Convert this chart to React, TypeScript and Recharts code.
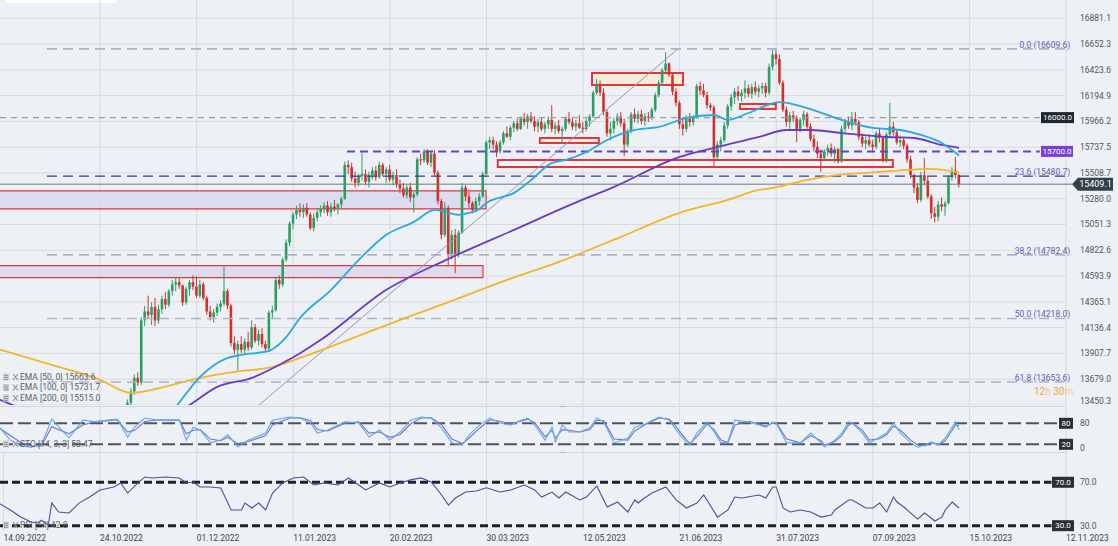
import React from "react";
import {
  ComposedChart,
  Bar,
  Line,
  XAxis,
  YAxis,
  CartesianGrid,
  ReferenceLine,
  ReferenceArea,
  ReferenceDot,
} from "recharts";

const W = 1118;
const MAIN_H = 405;
const BG = "#edf0f4";
const GRID = "#d6dae0";
const AX_TXT = "#51565c";
const FONT = "Roboto, 'Noto Sans', sans-serif";
const UP = "#2e9d62";
const DOWN = "#d3302c";
const ZONE_RED = "#e0383a";
const FIB_LINE = "#aeb2ca";
const FIB_TXT = "#5a63b4";

// x axis: trading-day index, one label every 28 bars
const dateTicks = [0, 28, 56, 84, 112, 140, 168, 196, 224, 252, 280, 308];
const dateLabels = [
  "14.09.2022", "24.10.2022", "01.12.2022", "11.01.2023", "20.02.2023", "30.03.2023",
  "12.05.2023", "21.06.2023", "31.07.2023", "07.09.2023", "15.10.2023", "12.11.2023",
];
const priceTicks = [
  16881.1, 16652.3, 16423.6, 16194.9, 15966.2, 15737.5, 15508.7, 15280.0,
  15051.3, 14822.6, 14593.9, 14365.1, 14136.4, 13907.7, 13679.0, 13450.3,
];

// daily candles, first one is bar 36
const firstBar = 36;
const opens = [
  13380, 13470, 13570, 13690, 13650, 14200, 14280, 14250, 14320, 14200,
  14300, 14390, 14340, 14460, 14520, 14540, 14510, 14360, 14480, 14540,
  14500, 14420, 14520, 14400, 14280, 14230, 14270, 14320, 14350, 14460,
  14330, 14000, 13940, 13990, 13940, 14010, 13960, 14140, 14020, 14080,
  13990, 13950, 14270, 14290, 14560, 14520, 14740, 14890, 15060, 15140,
  15180, 15160, 15200, 15140, 15020, 15110, 15160, 15190, 15220, 15160,
  15210, 15190, 15230, 15280, 15580, 15560, 15460, 15420, 15480, 15500,
  15430, 15490, 15530, 15470, 15580, 15500, 15540, 15450, 15490, 15410,
  15370, 15310, 15380, 15290, 15320, 15630, 15620, 15700, 15600, 15680,
  15510, 15260, 14960, 15200, 14790, 14960, 14780, 14980, 15380, 15300,
  15240, 15180, 15260, 15300, 15500, 15780, 15800, 15760, 15700, 15780,
  15860, 15830, 15910, 15950, 15900, 15990, 15960, 16010, 15970, 15920,
  15960, 15900, 15940, 15980, 15900, 15930, 15880, 15900, 15990, 15960,
  15920, 15950, 15910, 15900, 15970, 16010, 16220, 16300, 16220, 16050,
  15860, 15900, 15970, 16010, 15950, 15760, 15880, 16030, 15990, 16030,
  15970, 16010, 16000, 16070, 16200, 16310, 16420, 16480, 16380, 16230,
  16130, 15940, 15900, 15990, 15960, 16000, 16280, 16240, 16200, 16110,
  16090, 15650, 15760, 15800, 15930, 16100, 16180, 16230, 16190, 16220,
  16260, 16210, 16270, 16230, 16260, 16280, 16220, 16450, 16560, 16520,
  16310, 16070, 15960, 16020, 15990, 15900, 15980, 16030, 15920, 15810,
  15740, 15680, 15640, 15700, 15730, 15680, 15720, 15610, 15900, 15960,
  15930, 15990, 15960, 15830, 15770, 15800, 15760, 15740, 15860, 15820,
  15620, 15850, 15920, 15870, 15780, 15800, 15750, 15630, 15490, 15380,
  15270, 15490, 15440, 15300, 15150, 15120, 15230, 15210, 15240, 15470,
  15530, 15490,
];
const highs = [
  13500, 13600, 13720, 13740, 14230, 14330, 14420, 14360, 14400, 14340,
  14420, 14450, 14480, 14560, 14580, 14580, 14520, 14500, 14560, 14600,
  14590, 14560, 14540, 14420, 14330, 14300, 14350, 14380, 14680, 14480,
  14350, 14060, 14020, 14060, 14040, 14100, 14200, 14170, 14120, 14130,
  14020, 14290, 14330, 14580, 14600, 14760, 14920, 15080, 15160, 15220,
  15240, 15230, 15240, 15160, 15150, 15190, 15220, 15250, 15260, 15240,
  15270, 15240, 15300, 15610, 15620, 15600, 15520, 15500, 15690, 15540,
  15520, 15560, 15570, 15610, 15600, 15560, 15580, 15520, 15540, 15450,
  15420, 15400, 15420, 15340, 15650, 15680, 15720, 15720, 15700, 15710,
  15530, 15280, 15250, 15220, 15000, 15010, 15000, 15420, 15400, 15340,
  15260, 15290, 15330, 15520, 15800, 15830, 15830, 15790, 15800, 15880,
  15920, 15930, 15970, 15990, 16010, 16040, 16030, 16050, 16010, 15990,
  16000, 15960, 16010, 16110, 15960, 15980, 15920, 16010, 16050, 16000,
  15980, 16020, 15960, 15990, 16030, 16240, 16340, 16330, 16260, 16070,
  15960, 16000, 16040, 16050, 15990, 15900, 16050, 16080, 16060, 16070,
  16040, 16050, 16090, 16220, 16330, 16440, 16580, 16490, 16400, 16260,
  16150, 16000, 16020, 16040, 16020, 16300, 16320, 16300, 16230, 16130,
  16110, 15790, 15830, 15960, 16120, 16210, 16260, 16280, 16250, 16330,
  16290, 16300, 16320, 16290, 16310, 16310, 16480, 16600, 16610, 16560,
  16330, 16100, 16050, 16060, 16020, 16000, 16060, 16050, 15950, 15850,
  15790, 15720, 15720, 15760, 15770, 15740, 15730, 15930, 15990, 16010,
  16050, 16050, 15980, 15860, 15830, 15850, 15800, 15880, 15900, 15840,
  15870, 16130, 15960, 15890, 15840, 15830, 15770, 15660, 15500, 15420,
  15520, 15640, 15470, 15320, 15210, 15260, 15290, 15260, 15490, 15560,
  15650, 15500,
];
const lows = [
  13340, 13440, 13540, 13620, 13630, 14150, 14220, 14160, 14150, 14170,
  14260, 14300, 14320, 14420, 14460, 14480, 14330, 14340, 14420, 14470,
  14400, 14400, 14380, 14250, 14200, 14180, 14240, 14280, 14330, 14300,
  13970, 13900, 13760, 13910, 13900, 13930, 13940, 14000, 13980, 13960,
  13920, 13930, 14210, 14280, 14480, 14500, 14720, 14860, 15010, 15100,
  15120, 15110, 15120, 15000, 14990, 15080, 15120, 15150, 15130, 15120,
  15170, 15140, 15190, 15270, 15500, 15430, 15380, 15390, 15440, 15400,
  15380, 15450, 15440, 15460, 15480, 15420, 15430, 15400, 15380, 15330,
  15290, 15280, 15250, 15160, 15300, 15580, 15600, 15580, 15560, 15490,
  15230, 14920, 14940, 14690, 14740, 14620, 14760, 14970, 15260, 15200,
  15150, 15160, 15220, 15290, 15490, 15720, 15720, 15650, 15680, 15760,
  15820, 15800, 15870, 15880, 15890, 15930, 15900, 15950, 15880, 15870,
  15880, 15860, 15900, 15870, 15850, 15860, 15770, 15880, 15940, 15890,
  15880, 15900, 15860, 15880, 15920, 16000, 16200, 16190, 16020, 15830,
  15800, 15860, 15930, 15920, 15660, 15740, 15860, 15960, 15950, 15940,
  15930, 15960, 15980, 16050, 16180, 16290, 16400, 16360, 16200, 16100,
  15900, 15840, 15870, 15920, 15930, 15990, 16200, 16180, 16080, 16060,
  15570, 15620, 15700, 15780, 15900, 16060, 16120, 16150, 16140, 16170,
  16180, 16170, 16200, 16180, 16210, 16180, 16200, 16420, 16470, 16290,
  16050, 15920, 15900, 15960, 15780, 15870, 15930, 15900, 15790, 15700,
  15640, 15520, 15620, 15660, 15650, 15600, 15590, 15600, 15860, 15900,
  15890, 15930, 15800, 15740, 15720, 15740, 15700, 15720, 15780, 15600,
  15600, 15830, 15840, 15760, 15740, 15720, 15600, 15460, 15330, 15240,
  15250, 15400, 15280, 15100, 15070, 15080, 15170, 15130, 15230, 15440,
  15460, 15380,
];
const closes = [
  13470, 13570, 13690, 13650, 14200, 14280, 14250, 14320, 14200, 14300,
  14390, 14340, 14460, 14520, 14540, 14510, 14360, 14480, 14540, 14500,
  14420, 14520, 14400, 14280, 14230, 14270, 14320, 14350, 14460, 14330,
  14000, 13940, 13990, 13940, 14010, 13960, 14140, 14020, 14080, 13990,
  13950, 14270, 14290, 14560, 14520, 14740, 14890, 15060, 15140, 15180,
  15160, 15200, 15140, 15020, 15110, 15160, 15190, 15220, 15160, 15210,
  15190, 15230, 15280, 15580, 15560, 15460, 15420, 15480, 15500, 15430,
  15490, 15530, 15470, 15580, 15500, 15540, 15450, 15490, 15410, 15370,
  15310, 15380, 15290, 15320, 15630, 15620, 15700, 15600, 15680, 15510,
  15260, 14960, 15200, 14790, 14960, 14780, 14980, 15380, 15300, 15240,
  15180, 15260, 15300, 15500, 15780, 15800, 15760, 15700, 15780, 15860,
  15830, 15910, 15950, 15900, 15990, 15960, 16010, 15970, 15920, 15960,
  15900, 15940, 15980, 15900, 15930, 15880, 15900, 15990, 15960, 15920,
  15950, 15910, 15900, 15970, 16010, 16220, 16300, 16220, 16050, 15860,
  15900, 15970, 16010, 15950, 15760, 15880, 16030, 15990, 16030, 15970,
  16010, 16000, 16070, 16200, 16310, 16420, 16480, 16380, 16230, 16130,
  15940, 15900, 15990, 15960, 16000, 16280, 16240, 16200, 16110, 16090,
  15650, 15760, 15800, 15930, 16100, 16180, 16230, 16190, 16220, 16260,
  16210, 16270, 16230, 16260, 16280, 16220, 16450, 16560, 16520, 16310,
  16070, 15960, 16020, 15990, 15900, 15980, 16030, 15920, 15810, 15740,
  15680, 15640, 15700, 15730, 15680, 15720, 15610, 15900, 15960, 15930,
  15990, 15960, 15830, 15770, 15800, 15760, 15740, 15860, 15820, 15620,
  15850, 15920, 15870, 15780, 15800, 15750, 15630, 15490, 15380, 15270,
  15490, 15440, 15300, 15150, 15120, 15230, 15210, 15240, 15470, 15530,
  15490, 15409.1,
];

// moving averages (bar index / value)
const ema50Idx = [-2, 20, 36, 45, 50, 57, 65, 69, 77, 79, 82, 86, 95, 103, 111, 119, 125, 128, 132, 135, 138, 140, 148, 153, 159, 163, 169, 175, 183, 190, 198, 206, 210, 216, 225, 233, 243, 252, 260, 266, 272, 277];
const ema50Val = [12900, 12750, 13050, 13250, 13434, 13700, 13868, 13895, 13930, 13966, 14055, 14223, 14472, 14738, 14960, 15075, 15181, 15163, 15137, 15155, 15190, 15243, 15332, 15447, 15598, 15624, 15695, 15801, 15890, 15917, 15997, 16023, 15979, 16041, 16138, 16085, 15979, 15908, 15890, 15846, 15775, 15664];
const ema100Idx = [-2, 4, 28, 43, 53, 62, 72, 81, 86, 92, 111, 129, 148, 167, 177, 196, 206, 219, 227, 234, 243, 256, 264, 272, 277];
const ema100Val = [13510, 13434, 13275, 13320, 13434, 13611, 13691, 13824, 13910, 14028, 14472, 14747, 15004, 15261, 15385, 15651, 15731, 15828, 15890, 15890, 15863, 15828, 15819, 15757, 15732];
const ema200Idx = [-2, 14, 28, 37, 43, 57, 67, 78, 86, 100, 115, 130, 146, 161, 179, 196, 210, 219, 223, 233, 242, 254, 262, 268, 277];
const ema200Val = [13950, 13806, 13673, 13558, 13585, 13691, 13744, 13788, 13868, 14028, 14206, 14374, 14560, 14720, 14942, 15155, 15270, 15358, 15376, 15447, 15491, 15518, 15536, 15545, 15515];

// stochastic
const stochIdx = [-2, 2, 5, 8, 11, 14, 19, 23, 27, 30, 33, 36, 38, 41, 45, 48, 51, 53, 55, 57, 60, 63, 65, 68, 71, 76, 78, 83, 86, 89, 91, 94, 99, 103, 106, 109, 112, 115, 118, 121, 124, 127, 130, 133, 135, 138, 141, 144, 147, 150, 152, 154, 157, 159, 160, 162, 164, 167, 170, 172, 174, 177, 181, 183, 186, 190, 193, 195, 198, 199, 201, 204, 206, 208, 210, 212, 216, 219, 221, 223, 224, 227, 231, 234, 237, 238, 241, 243, 245, 246, 249, 251, 254, 256, 258, 260, 263, 265, 267, 269, 271, 273, 275, 276, 277];
const stochK = [78, 32, 15, 12, 18, 92, 38, 89, 84, 89, 92, 41, 69, 95, 89, 89, 89, 32, 69, 61, 24, 32, 47, 12, 32, 52, 89, 98, 95, 81, 52, 61, 84, 81, 41, 61, 32, 55, 89, 98, 95, 67, 24, 18, 47, 75, 95, 81, 75, 89, 95, 75, 32, 69, 27, 75, 55, 55, 67, 95, 84, 24, 38, 69, 78, 98, 89, 61, 24, 18, 52, 84, 55, 24, 27, 89, 84, 75, 69, 84, 81, 24, 24, 52, 24, 12, 32, 52, 84, 81, 52, 24, 41, 52, 81, 52, 24, 12, 18, 27, 18, 38, 69, 84, 61];
const stochD = [72, 45, 25, 15, 15, 70, 50, 75, 86, 87, 90, 55, 60, 85, 90, 89, 89, 50, 60, 62, 35, 30, 40, 22, 28, 45, 75, 95, 96, 88, 62, 58, 80, 84, 52, 55, 40, 48, 78, 95, 96, 76, 35, 22, 38, 66, 90, 86, 78, 86, 92, 82, 42, 60, 38, 62, 60, 55, 62, 88, 88, 35, 32, 58, 76, 95, 92, 70, 32, 22, 42, 78, 62, 32, 25, 75, 86, 78, 72, 80, 82, 35, 24, 45, 30, 18, 28, 45, 75, 82, 60, 32, 36, 48, 72, 60, 32, 18, 16, 24, 20, 30, 60, 76, 72];

// RSI
const rsiIdx = [-2, 2, 5, 8, 10, 11, 13, 14, 16, 19, 22, 25, 28, 32, 34, 36, 39, 41, 43, 47, 51, 53, 55, 57, 60, 63, 66, 69, 70, 72, 74, 76, 78, 81, 84, 87, 90, 93, 97, 100, 103, 105, 109, 112, 115, 118, 121, 124, 127, 129, 131, 134, 137, 140, 143, 144, 147, 151, 154, 156, 159, 161, 163, 167, 169, 172, 175, 178, 181, 183, 184, 185, 188, 192, 195, 198, 201, 203, 207, 210, 212, 214, 219, 221, 223, 224, 226, 228, 231, 234, 237, 240, 241, 245, 246, 250, 252, 254, 256, 258, 259, 261, 265, 267, 270, 272, 273, 275, 277];
const rsiVal = [52, 44.5, 38, 33.4, 32.5, 35, 30.6, 51, 42.6, 41.7, 51, 56.4, 62.9, 65.7, 69.4, 60.1, 69.4, 74.9, 74, 74.9, 74, 69.4, 70.3, 65.7, 65.7, 64.7, 44.5, 44.5, 50.9, 46.3, 50.9, 44.5, 60.1, 69.4, 74, 74.9, 67.5, 69.4, 67.5, 74, 67.5, 62.9, 69.4, 65.7, 69.4, 72.2, 74, 70.3, 58.3, 49, 55.5, 61, 62, 65, 62, 61, 62.9, 67.5, 62.9, 56.4, 61, 55.5, 61, 53.7, 56.4, 66.6, 47.2, 51.8, 42.6, 53.7, 50.9, 53.7, 60.1, 65.7, 53.7, 46.3, 50.9, 58.3, 37.9, 44.5, 56.4, 55.5, 58.3, 55.5, 65.7, 65.7, 46.3, 42.6, 44.5, 42.6, 37.9, 39.8, 44.5, 53.7, 53.7, 46.3, 46.3, 50.9, 42.6, 56.4, 51.8, 47.2, 36.1, 41.7, 34.3, 37.9, 44.5, 51.8, 46.3];

const FIRST_ROW = -2;
function makeRows() {
  const rows: any[] = [];
  for (let i = FIRST_ROW; i <= 277; i++) rows.push({ i });
  return rows;
}
const at = (rows: any[], i: number) => rows[i - FIRST_ROW];

const mainRows = makeRows();
opens.forEach((o, k) => {
  const r = at(mainRows, firstBar + k);
  r.o = o;
  r.h = highs[k];
  r.l = lows[k];
  r.c = closes[k];
});
ema50Idx.forEach((ix, k) => (at(mainRows, ix).e50 = ema50Val[k]));
ema100Idx.forEach((ix, k) => (at(mainRows, ix).e100 = ema100Val[k]));
ema200Idx.forEach((ix, k) => (at(mainRows, ix).e200 = ema200Val[k]));

const stochRows = makeRows();
stochIdx.forEach((ix, k) => {
  at(stochRows, ix).k = stochK[k];
  at(stochRows, ix).d = stochD[k];
});
const rsiRows = makeRows();
rsiIdx.forEach((ix, k) => (at(rsiRows, ix).rsi = rsiVal[k]));

function Candle(props: any) {
  const { x, y, width, height, payload } = props;
  if (!payload || payload.o == null || !isFinite(y) || !isFinite(height)) return <g />;
  const { o, h, l, c } = payload;
  const top = Math.min(y, y + height);
  const span = Math.abs(height);
  const k = h > l ? span / (h - l) : 0;
  const yO = top + (h - o) * k;
  const yC = top + (h - c) * k;
  const col = c >= o ? UP : DOWN;
  const cx = x + width / 2;
  return (
    <g>
      <line x1={cx} x2={cx} y1={top} y2={top + span} stroke={col} strokeWidth={1} />
      <rect x={cx - 1.3} y={Math.min(yO, yC)} width={2.6} height={Math.max(1, Math.abs(yC - yO))} fill={col} />
    </g>
  );
}

function RightTick(props: any) {
  const { x, y, payload, maxY, digits } = props;
  const yy = y > maxY ? maxY : y;
  return (
    <text x={x + 14} y={yy} dy="0.35em" fontSize={8.5} fill={AX_TXT} fontFamily={FONT}>
      {Number(payload.value).toFixed(digits)}
    </text>
  );
}

function DateTick(props: any) {
  const { x, y, payload } = props;
  const k = dateTicks.indexOf(payload.value);
  return (
    <text x={x} y={y + 7} dy="0.35em" fontSize={8.5} fill="#3f444a" fontFamily={FONT}>
      {dateLabels[k]}
    </text>
  );
}

function Tag(props: any) {
  const { cx, cy, left, w, bg, text, fs = 8 } = props;
  return (
    <g>
      <rect x={cx + left} y={cy - 5.5} width={w} height={11} fill={bg} />
      <text x={cx + left + w / 2} y={cy} dy="0.35em" textAnchor="middle" fontSize={fs} fill="#fff" fontFamily={FONT}>
        {text}
      </text>
    </g>
  );
}

function PriceTag(props: any) {
  const { cx, cy } = props;
  const pts = `${cx + 6},${cy} ${cx + 12},${cy - 6.5} ${cx + 47},${cy - 6.5} ${cx + 47},${cy + 6.5} ${cx + 12},${cy + 6.5}`;
  return (
    <g>
      <polygon points={pts} fill="#33414a" />
      <text x={cx + 29.5} y={cy} dy="0.35em" textAnchor="middle" fontSize={9} fill="#fff" fontFamily={FONT}>
        15409.1
      </text>
    </g>
  );
}

const fibLabel = (value: string) => ({
  value,
  position: "insideBottomRight" as const,
  offset: 1,
  fontSize: 8.5,
  fill: FIB_TXT,
  fontFamily: FONT,
});

function LegendIcon({ x, y }: { x: number; y: number }) {
  return (
    <g transform={`translate(${x},${y})`}>
      <rect x={0} y={-3.5} width={6} height={7} fill="#c9ccd2" />
      <line x1={1} x2={5} y1={-1.5} y2={-1.5} stroke="#8a8f96" strokeWidth={0.8} />
      <line x1={1} x2={5} y1={0.5} y2={0.5} stroke="#8a8f96" strokeWidth={0.8} />
      <line x1={1} x2={5} y1={2.5} y2={2.5} stroke="#8a8f96" strokeWidth={0.8} />
      <path d={`M10,-3 L15,3 M15,-3 L10,3`} stroke="#8a8f96" strokeWidth={1.1} />
    </g>
  );
}

function Legend({ lines, top }: { lines: string[]; top: number }) {
  return (
    <svg width={160} height={lines.length * 10.5 + 2} style={{ position: "absolute", left: 2, top }}>
      {lines.map((t, k) => (
        <g key={t}>
          <LegendIcon x={1} y={6 + k * 10.5} />
          <text x={18} y={6 + k * 10.5} dy="0.35em" fontSize={8.5} fill="#5d6269" fontFamily={FONT}>
            {t}
          </text>
        </g>
      ))}
    </svg>
  );
}

export default function App() {
  return (
    <div
      style={{
        position: "absolute",
        left: 0,
        top: 0,
        width: W,
        height: 546,
        overflow: "hidden",
        background: BG,
        fontFamily: FONT,
      }}
    >
      <div style={{ position: "absolute", left: 5, top: 0, width: 111, height: 3, background: "#fff" }} />

      {/* price panel */}
      <div style={{ position: "absolute", left: 0, top: 0 }}>
        <ComposedChart width={W} height={MAIN_H} data={mainRows} margin={{ top: 0, right: 0, bottom: 0, left: 0 }}>
          <CartesianGrid stroke={GRID} horizontalValues={priceTicks} verticalValues={dateTicks} />
          <XAxis dataKey="i" type="number" domain={[-1, 308]} allowDataOverflow hide />
          <YAxis
            orientation="right"
            type="number"
            domain={[13450, 17043.4]}
            allowDataOverflow
            ticks={priceTicks}
            interval={0}
            width={52}
            axisLine={false}
            tickLine={false}
            tickSize={0}
            tickMargin={0}
            tick={<RightTick maxY={401} digits={1} />}
          />
          <ReferenceArea x1={-1.6} x2={139.9} y1={15190} y2={15349.5} fill="#d6d7ef" fillOpacity={0.75} stroke={ZONE_RED} strokeWidth={1.2} ifOverflow="visible" />
          <ReferenceArea x1={-1.6} x2={139} y1={14580.5} y2={14687} fill="#d6d7ef" fillOpacity={0.75} stroke={ZONE_RED} strokeWidth={1.2} ifOverflow="visible" />
          <ReferenceArea x1={143.3} x2={257.8} y1={15562.3} y2={15624.4} fill="#ffffff" fillOpacity={0.3} stroke={ZONE_RED} strokeWidth={2} />
          <ReferenceArea x1={155.5} x2={172.6} y1={15775} y2={15819.5} fill="#f6e6dc" fillOpacity={0.7} stroke={ZONE_RED} strokeWidth={2} />
          <ReferenceArea x1={170.6} x2={197} y1={16289.6} y2={16396} fill="#f6ecd6" fillOpacity={0.85} stroke={ZONE_RED} strokeWidth={2} />
          <ReferenceArea x1={213.5} x2={223.9} y1={16076.7} y2={16121} fill="#f4e8da" fillOpacity={0.8} stroke={ZONE_RED} strokeWidth={2} />

          <ReferenceLine segment={[{ x: 12.6, y: 16609.6 }, { x: 309.5, y: 16609.6 }]} stroke={FIB_LINE} strokeWidth={1.6} strokeDasharray="10 6" ifOverflow="visible" label={fibLabel("0.0 (16609.6)")} />
          <ReferenceLine segment={[{ x: 12.6, y: 15480.7 }, { x: 309.5, y: 15480.7 }]} stroke="#2e3c93" strokeWidth={1.4} strokeDasharray="10 6" ifOverflow="visible" label={fibLabel("23.6 (15480.7)")} />
          <ReferenceLine segment={[{ x: 12.6, y: 14782.4 }, { x: 309.5, y: 14782.4 }]} stroke={FIB_LINE} strokeWidth={1.6} strokeDasharray="10 6" ifOverflow="visible" label={fibLabel("38.2 (14782.4)")} />
          <ReferenceLine segment={[{ x: 12.6, y: 14218 }, { x: 309.5, y: 14218 }]} stroke={FIB_LINE} strokeWidth={1.6} strokeDasharray="10 6" ifOverflow="visible" label={fibLabel("50.0 (14218.0)")} />
          <ReferenceLine segment={[{ x: 12.6, y: 13653.6 }, { x: 309.5, y: 13653.6 }]} stroke={FIB_LINE} strokeWidth={1.6} strokeDasharray="10 6" ifOverflow="visible" label={fibLabel("61.8 (13653.6)")} />
          <ReferenceLine segment={[{ x: -1, y: 16000 }, { x: 300.4, y: 16000 }]} stroke="#9a9da2" strokeWidth={1.4} strokeDasharray="6 5" ifOverflow="visible" />
          <ReferenceLine segment={[{ x: 99.6, y: 15700 }, { x: 300.4, y: 15700 }]} stroke="#6b3fc6" strokeWidth={2} strokeDasharray="8 5" ifOverflow="visible" />
          <ReferenceLine segment={[{ x: -1, y: 15409.1 }, { x: 309.8, y: 15409.1 }]} stroke="#6e7980" strokeWidth={1} ifOverflow="visible" />
          <ReferenceLine segment={[{ x: 73.8, y: 13442 }, { x: 195.5, y: 16609 }]} stroke="#9495b8" strokeWidth={1} ifOverflow="visible" />

          <Line dataKey="e200" stroke="#f4b52c" strokeWidth={1.8} dot={false} activeDot={false} connectNulls type="monotone" isAnimationActive={false} />
          <Line dataKey="e100" stroke="#6a3cc2" strokeWidth={1.8} dot={false} activeDot={false} connectNulls type="monotone" isAnimationActive={false} />
          <Line dataKey="e50" stroke="#2aa8e2" strokeWidth={1.8} dot={false} activeDot={false} connectNulls type="monotone" isAnimationActive={false} />
          <Bar dataKey={(d: any) => (d.h == null ? null : [d.l, d.h])} barSize={3} shape={(p: any) => <Candle {...p} />} isAnimationActive={false} />

          <ReferenceDot x={308} y={16000} r={0} ifOverflow="visible" shape={(p: any) => <Tag cx={p.cx} cy={p.cy} left={-25} w={33} bg="#1f282e" text="16000.0" />} />
          <ReferenceDot x={308} y={15700} r={0} ifOverflow="visible" shape={(p: any) => <Tag cx={p.cx} cy={p.cy} left={-25} w={32} bg="#7b3fd2" text="15700.0" />} />
          <ReferenceDot x={308} y={15409.1} r={0} ifOverflow="visible" shape={(p: any) => <PriceTag cx={p.cx} cy={p.cy} />} />
        </ComposedChart>
      </div>

      <Legend top={371} lines={["EMA [50, 0] 15663.6", "EMA [100, 0] 15731.7", "EMA [200, 0] 15515.0"]} />
      <div style={{ position: "absolute", left: 1034, top: 386, fontSize: 10, fontFamily: FONT, color: "#f5a23c" }}>
        12<span style={{ color: "#f6c993" }}>h</span> 30<span style={{ color: "#f6c993" }}>m</span>
      </div>

      <div style={{ position: "absolute", left: 0, top: 405.5, width: 1066, height: 1, background: "#d3d7dd" }} />
      <div style={{ position: "absolute", left: 0, top: 452, width: 1066, height: 1, background: "#d3d7dd" }} />
      <div style={{ position: "absolute", left: 560, top: 406, width: 6, height: 1, background: "#b9bdc3" }} />
      <div style={{ position: "absolute", left: 560, top: 452, width: 6, height: 1, background: "#b9bdc3" }} />

      {/* stochastic panel */}
      <div style={{ position: "absolute", left: 0, top: 407 }}>
        <ComposedChart width={W} height={45} data={stochRows} margin={{ top: 0, right: 0, bottom: 0, left: 0 }}>
          <CartesianGrid stroke={GRID} horizontal={false} verticalValues={dateTicks} />
          <XAxis dataKey="i" type="number" domain={[-1, 308]} allowDataOverflow hide />
          <YAxis
            orientation="right"
            type="number"
            domain={[-2, 126.6]}
            allowDataOverflow
            ticks={[80, 0]}
            interval={0}
            width={52}
            axisLine={false}
            tickLine={false}
            tickSize={0}
            tickMargin={0}
            tick={<RightTick maxY={41} digits={0} />}
          />
          <ReferenceLine segment={[{ x: -1, y: 80 }, { x: 305.7, y: 80 }]} stroke="#4f5458" strokeWidth={2} strokeDasharray="13 5" ifOverflow="visible" />
          <ReferenceLine segment={[{ x: -1, y: 20 }, { x: 305.7, y: 20 }]} stroke="#4f5458" strokeWidth={2} strokeDasharray="13 5" ifOverflow="visible" />
          <Line dataKey="d" stroke="#7b6fcf" strokeWidth={1.1} dot={false} activeDot={false} connectNulls isAnimationActive={false} />
          <Line dataKey="k" stroke="#58aeea" strokeWidth={1.1} dot={false} activeDot={false} connectNulls isAnimationActive={false} />
          <ReferenceDot x={308} y={80} r={0} ifOverflow="visible" shape={(p: any) => <Tag cx={p.cx} cy={p.cy} left={-7} w={14} bg="#2a3035" text="80" />} />
          <ReferenceDot x={308} y={20} r={0} ifOverflow="visible" shape={(p: any) => <Tag cx={p.cx} cy={p.cy} left={-7} w={14} bg="#2a3035" text="20" />} />
        </ComposedChart>
      </div>
      <Legend top={438} lines={["STO [14, 3, 3] 58.47"]} />

      {/* RSI panel */}
      <div style={{ position: "absolute", left: 0, top: 452 }}>
        <ComposedChart width={W} height={94} data={rsiRows} margin={{ top: 0, right: 0, bottom: 0, left: 0 }}>
          <CartesianGrid stroke={GRID} horizontal={false} verticalValues={dateTicks} />
          <XAxis
            dataKey="i"
            type="number"
            domain={[-1, 308]}
            allowDataOverflow
            ticks={dateTicks}
            interval={0}
            height={15}
            axisLine={false}
            tickLine={false}
            tickSize={0}
            tickMargin={0}
            tick={<DateTick />}
          />
          <YAxis
            orientation="right"
            type="number"
            domain={[25.1, 97.9]}
            allowDataOverflow
            ticks={[70, 30]}
            interval={0}
            width={52}
            axisLine={false}
            tickLine={false}
            tickSize={0}
            tickMargin={0}
            tick={<RightTick maxY={79} digits={1} />}
          />
          <ReferenceLine segment={[{ x: -1, y: 70 }, { x: 303.8, y: 70 }]} stroke="#1f2327" strokeWidth={3} strokeDasharray="8 4" ifOverflow="visible" />
          <ReferenceLine segment={[{ x: -1, y: 30 }, { x: 303.8, y: 30 }]} stroke="#1f2327" strokeWidth={3} strokeDasharray="8 4" ifOverflow="visible" />
          <Line dataKey="rsi" stroke="#4d4f9c" strokeWidth={1.1} dot={false} activeDot={false} connectNulls isAnimationActive={false} />
          <ReferenceDot x={308} y={70} r={0} ifOverflow="visible" shape={(p: any) => <Tag cx={p.cx} cy={p.cy} left={-14} w={22} bg="#2a3035" text="70.0" />} />
          <ReferenceDot x={308} y={30} r={0} ifOverflow="visible" shape={(p: any) => <Tag cx={p.cx} cy={p.cy} left={-14} w={22} bg="#2a3035" text="30.0" />} />
        </ComposedChart>
      </div>
      <Legend top={519} lines={["RSI [14] 42.8"]} />
    </div>
  );
}
